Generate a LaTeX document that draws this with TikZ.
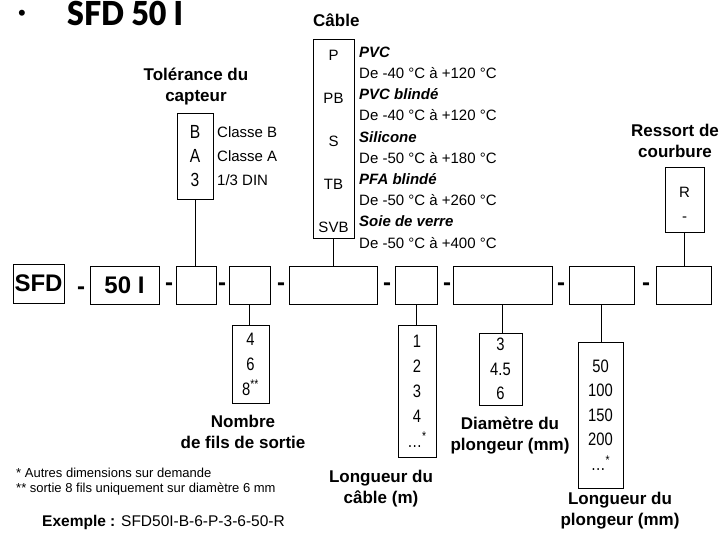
\documentclass[tikz,border=0pt]{standalone}
\usepackage{fontspec}
\setmainfont{Liberation Sans}
\newfontfamily\titlefont{Lato}[BoldFont={Lato Black},FakeStretch=0.92]
\newfontfamily\narrowfont{Liberation Sans}[FakeStretch=0.82]
\usepackage{tikz}
\usetikzlibrary{positioning}
\tikzset{
    mybox/.style={rectangle,draw=black,line width=0.8pt,inner sep=0pt,outer sep=0pt,align=center,font=\fontsize{15}{24}\selectfont},
    mainbox/.style={mybox,minimum height=38pt,font=\fontsize{24}{28}\selectfont\bfseries},
    valbox/.style={mybox,font=\narrowfont\fontsize{18}{24.5}\selectfont},
    mydash/.style={anchor=base,inner sep=0pt,font=\fontsize{24}{28}\selectfont\bfseries},
    mylabel/.style={align=center,inner sep=0pt,font=\fontsize{17}{21}\selectfont\bfseries},
    mytext/.style={align=left,inner sep=0pt,font=\fontsize{15}{24}\selectfont},
    myline/.style={line width=0.8pt}
}

\begin{document}
\begin{tikzpicture}[x=1pt,y=-1pt]
    \useasboundingbox (0,0) rectangle (723,535);
    % title
    \node[anchor=base,inner sep=0pt,font=\fontsize{22}{22}\selectfont] (bullet) at (22,20.5) {\textbullet};
    \node[anchor=base west,inner sep=0pt,font=\titlefont\fontsize{33}{33}\bfseries\selectfont] (title) at (67,26) {SFD 50 I};
    % code row
    \node[mainbox,minimum width=51pt,minimum height=39pt] (sfd) at (38.5,283.5) {SFD};
    \node[mainbox,minimum width=69pt] (serie) at (124.5,285) {50 I};
    \node[mainbox,minimum width=40pt] (b3) at (196,285) {};
    \node[mainbox,minimum width=41pt] (b4) at (249.5,285) {};
    \node[mainbox,minimum width=88pt] (b5) at (333,285) {};
    \node[mainbox,minimum width=42pt] (b6) at (416,285) {};
    \node[mainbox,minimum width=99pt] (b7) at (502.5,285) {};
    \node[mainbox,minimum width=65pt] (b8) at (601.5,285) {};
    \node[mainbox,minimum width=55pt] (b9) at (683.5,285) {};
    \foreach \x/\y in {81/294,169/290,222/290,281/290,387/290,447/290,561/290,646/290}
        \node[mydash] (dash\x) at (\x,\y) {-};
    % options above
    \node[mylabel] (toltitle) at (196,87) {Tolérance du\\capteur};
    \node[valbox,minimum width=36pt,minimum height=86pt,font=\narrowfont\fontsize{19}{24}\selectfont] (tol) at (195,156) {B\\A\\3};
    \node[mytext,anchor=west] (toltext) at (217,156) {Classe B\\Classe A\\1/3 DIN};
    \node[mylabel,anchor=west] (cabtitle) at (313,20) {Câble};
    \node[mybox,minimum width=41pt,minimum height=199pt] (cab) at (333.5,138.5) {};
    \node[mytext,align=center,font=\fontsize{15}{43}\selectfont] (cabcodes) at (333.5,141.5) {P\\PB\\S\\TB\\SVB};
    \node[mytext,anchor=west,font=\fontsize{15}{21.2}\selectfont] (cabtext) at (359,147.5)
        {\textbf{\textit{PVC}}\\De -40 °C à +120 °C\\\textbf{\textit{PVC blindé}}\\De -40 °C à +120 °C\\%
         \textbf{\textit{Silicone}}\\De -50 °C à +180 °C\\\textbf{\textit{PFA blindé}}\\De -50 °C à +260 °C\\%
         \textbf{\textit{Soie de verre}}\\De -50 °C à +400 °C};
    \node[mylabel] (restitle) at (675,141) {Ressort de\\courbure};
    \node[mybox,minimum width=39pt,minimum height=65pt] (res) at (684.5,199.5) {};
    \node[mytext,align=center] (restext) at (684.5,204) {R\\-};
    % options below
    \node[valbox,minimum width=37pt,minimum height=78pt,font=\narrowfont\fontsize{18}{25}\selectfont] (fils) at (250.5,364) {4\\6\\8\textsuperscript{**}};
    \node[mylabel] (filstitle) at (243,432) {Nombre\\de fils de sortie};
    \node[valbox,minimum width=38pt,minimum height=132pt,font=\narrowfont\fontsize{18}{25}\selectfont] (lcab) at (417,391) {1\\2\\3\\4\\\ldots\textsuperscript{*}};
    \node[mylabel] (lcabtitle) at (381,489) {Longueur du\\câble (m)};
    \node[valbox,minimum width=43pt,minimum height=72pt] (diam) at (500.5,369) {3\\4.5\\6};
    \node[mylabel] (diamtitle) at (510,436) {Diamètre du\\plongeur (mm)};
    \node[valbox,minimum width=45pt,minimum height=146pt] (lplg) at (600.5,415) {50\\100\\150\\200\\\ldots\textsuperscript{*}};
    \node[mylabel] (lplgtitle) at (620,511) {Longueur du\\plongeur (mm)};
    % notes
    \node[mytext,anchor=west,font=\fontsize{13}{16}\selectfont] (note1) at (16,473) {* Autres dimensions sur demande};
    \node[mytext,anchor=west,font=\fontsize{13}{16}\selectfont] (note2) at (16,489) {** sortie 8 fils uniquement sur diamètre 6 mm};
    \node[mytext,anchor=west,font=\fontsize{15.5}{18}\selectfont] (example) at (42,522) {\textbf{Exemple :} SFD50I-B-6-P-3-6-50-R};
    % connectors
    \path (tol.south) edge [myline] (tol.south |- b3.north)
          (cab.south) edge [myline] (cab.south |- b5.north)
          (res.south) edge [myline] (res.south |- b9.north)
          (b4.south) edge [myline] (b4.south |- fils.north)
          (b6.south) edge [myline] (b6.south |- lcab.north)
          (b7.south) edge [myline] (b7.south |- diam.north)
          (b8.south) edge [myline] (b8.south |- lplg.north);
\end{tikzpicture}
\end{document}
